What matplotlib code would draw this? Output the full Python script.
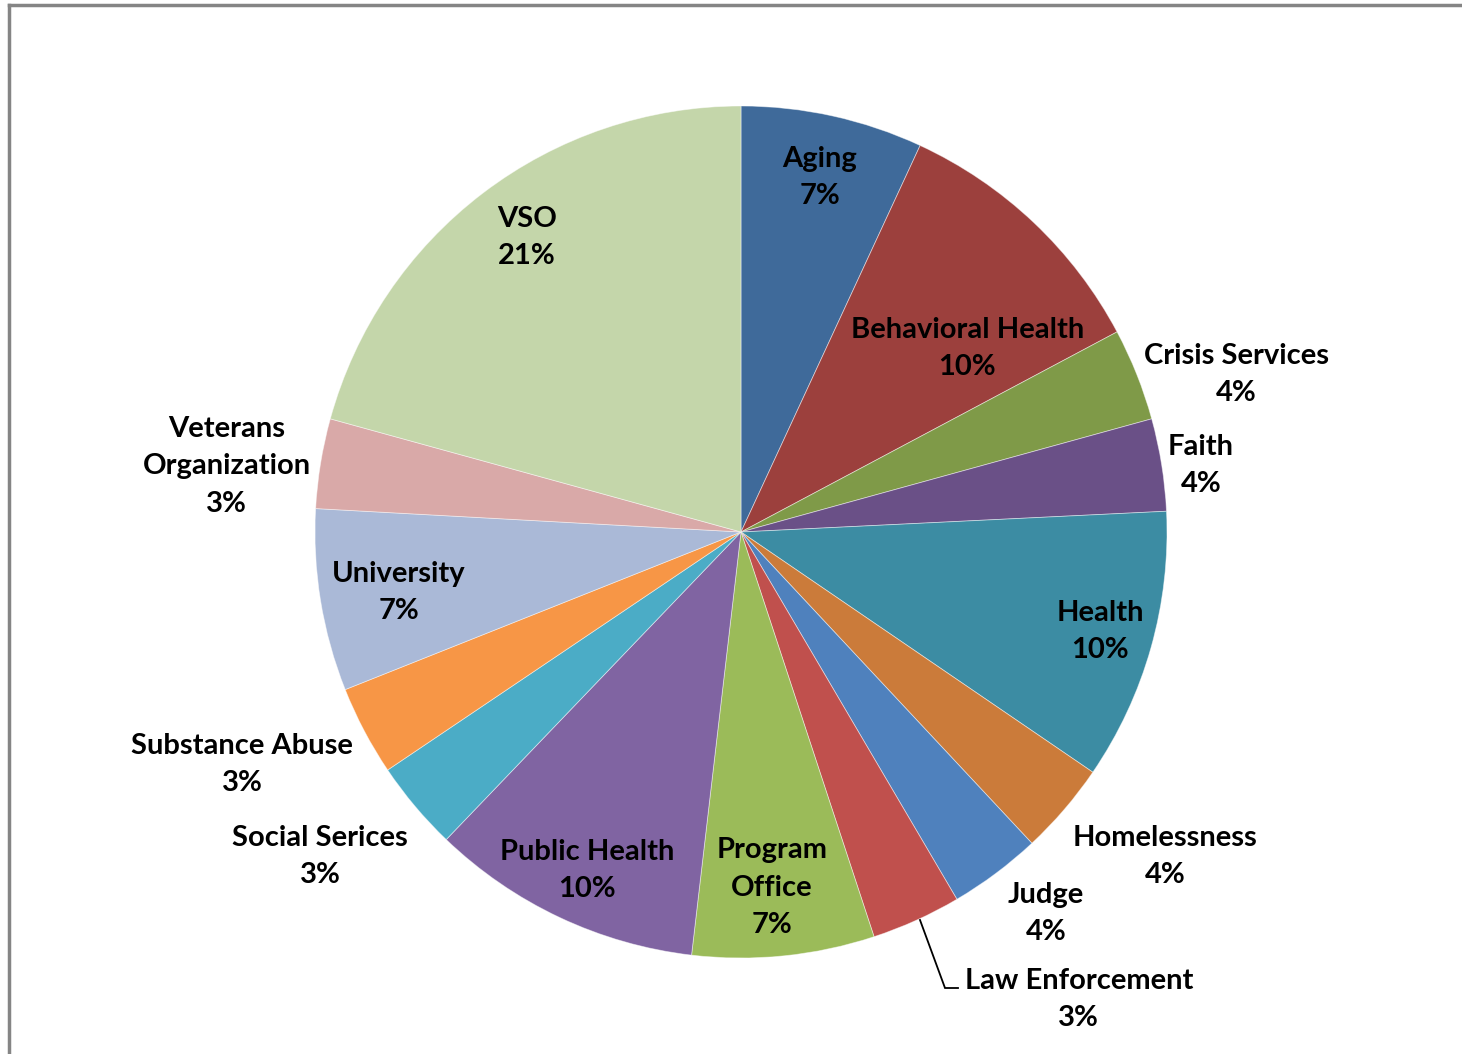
import matplotlib
matplotlib.use("Agg")
import matplotlib.pyplot as plt
from matplotlib.lines import Line2D

categories = ["Aging", "Behavioral Health", "Crisis Services", "Faith", "Health",
              "Homelessness", "Judge", "Law Enforcement", "Program\nOffice",
              "Public Health", "Social Serices", "Substance Abuse", "University",
              "Veterans\nOrganization", "VSO"]
values = [6.9, 10.3, 3.5, 3.5, 10.3, 3.5, 3.5, 3.4, 6.9, 10.3, 3.4, 3.4, 6.9, 3.4, 20.7]
pct_labels = ["7%", "10%", "4%", "4%", "10%", "4%", "4%", "3%", "7%", "10%",
              "3%", "3%", "7%", "3%", "21%"]
colors = ["#3F6A9A", "#9C403D", "#7F9A48", "#6A5087", "#3C8CA3", "#CB7B3A",
          "#4F81BD", "#C0504D", "#9BBB59", "#8064A2", "#4BACC6", "#F79646",
          "#AAB9D7", "#D9A9A8", "#C4D6AA"]

# label positions in units of pie radius (layout)
label_pos = [(0.185, 0.838), (0.531, 0.437), (1.162, 0.376), (1.080, 0.162),
             (0.843, -0.228), (0.995, -0.756), (0.716, -0.890), (0.793, -1.092),
             (0.073, -0.829), (-0.362, -0.789), (-0.988, -0.756), (-1.171, -0.540),
             (-0.803, -0.136), (-1.207, 0.160), (-0.502, 0.697)]

W, H = 1462, 1054
cx, cy, R = 741, 532, 426

fig = plt.figure(figsize=(W / 100, H / 100), dpi=100)
fig.patch.set_facecolor("white")
ax = fig.add_axes([0, 0, 1, 1])
ax.pie(values, colors=colors, startangle=90, counterclock=False, radius=1,
       wedgeprops=dict(edgecolor=(1, 1, 1, 0.5), linewidth=0.6))
ax.set_xlim(-cx / R, (W - cx) / R)
ax.set_ylim(-(H - cy) / R, cy / R)
ax.set_aspect("auto")
ax.axis("off")

dy = -2.5 / R
for cat, pct, (lx, ly) in zip(categories, pct_labels, label_pos):
    ax.text(lx, ly + dy, f"{cat}\n{pct}", ha="center", va="center",
            fontsize=21, fontweight="bold", family=["Lato", "DejaVu Sans"],
            color="black", linespacing=1.55)

# leader line for Law Enforcement (pixel-based layout)
def px(x, y):
    return ((x - cx) / R, (cy - y) / R)
pts = [px(920, 920), px(945, 988), px(958, 988)]
ax.plot([p[0] for p in pts], [p[1] for p in pts], color="black", lw=1.3,
        solid_joinstyle="miter")

# chart frame (top and left visible)
fig.add_artist(Line2D([8.5 / W, 8.5 / W], [0, 1 - 4.5 / H], transform=fig.transFigure,
                      color="#858585", lw=2.5))
fig.add_artist(Line2D([8.5 / W, 1], [1 - 4.5 / H, 1 - 4.5 / H], transform=fig.transFigure,
                      color="#858585", lw=2.5))

fig.savefig("out.png", dpi=100, facecolor="white")
